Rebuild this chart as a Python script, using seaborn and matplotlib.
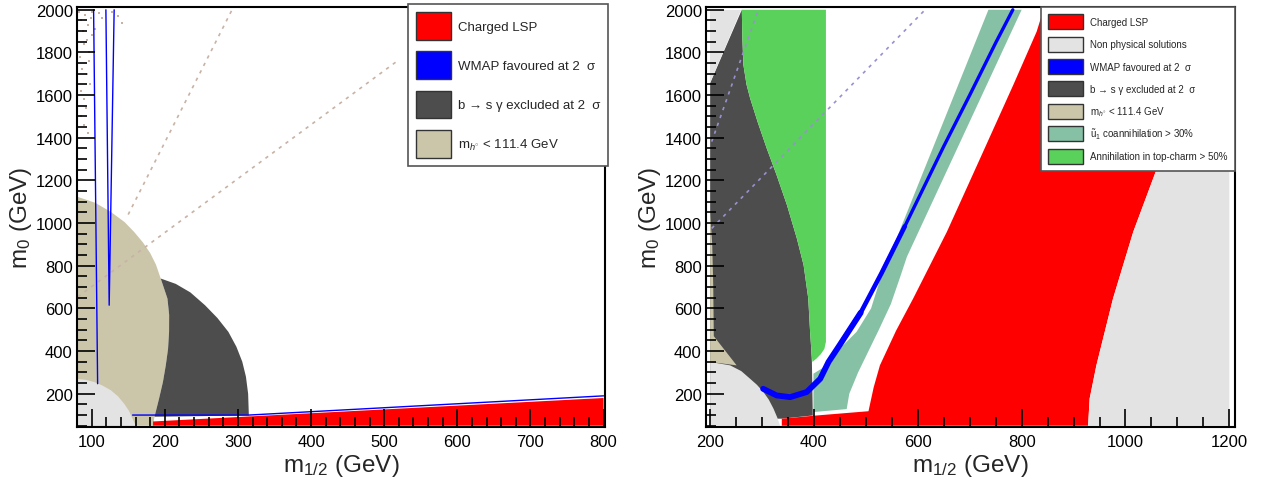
import matplotlib
matplotlib.use("Agg")
import matplotlib.pyplot as plt
from matplotlib.patches import Patch
from matplotlib.ticker import MultipleLocator
import seaborn as sns

sns.set_style("white")
plt.rcParams["font.family"] = ["Liberation Sans", "DejaVu Sans"]
plt.rcParams["mathtext.fontset"] = "custom"
plt.rcParams["mathtext.rm"] = "Liberation Sans"
plt.rcParams["mathtext.it"] = "Liberation Sans:italic"

# colours of the regions
C_RED = "#ff0000"
C_BLUE = "#0000ff"
C_DARK = "#4d4d4d"
C_TAN = "#cbc6aa"
C_LIGHT = "#e3e3e3"
C_TEAL = "#86c1a5"
C_GREEN = "#59d15a"

# ---------------- left panel (m1/2, m0) region boundaries in GeV ----------------
L_tan_x = [80, 105, 126, 145, 158, 170, 180, 188, 194.5, 203.7, 206, 205.9, 204.5, 201.4,
           197.5, 192.2, 185.4, 184.5, 80]
L_tan_y = [1124, 1095, 1053, 1005, 959, 910, 860, 805, 740, 646, 570, 490, 410, 333,
           255, 177, 83, 50, 50]

L_dark_x = [194.5, 215, 235, 255, 272, 287, 298, 306, 311, 314, 315, 186,
            192.2, 197.5, 201.4, 204.5, 205.9, 206, 203.7]
L_dark_y = [740, 715, 675, 615, 555, 490, 420, 350, 280, 200, 98, 92,
            177, 255, 333, 410, 490, 570, 646]

L_light_x = [80, 80, 92, 103.5, 115, 126.3, 136, 144.5, 151, 155.9, 160.4]
L_light_y = [50, 270, 265, 255, 238, 216, 188, 153, 120, 83, 50]

L_red_x = [184, 184, 800, 800]
L_red_y = [50, 70, 180, 50]

L_wmap_x = [156, 315, 800]
L_wmap_y = [100, 100, 190]
L_wmapv1_x = [102.7, 108.2]
L_wmapv1_y = [2000, 247]
L_wmapv2_x = [119.5, 124, 130.8]
L_wmapv2_y = [2000, 615, 2000]

L_ray1_x = [150, 292]
L_ray1_y = [1040, 2000]
L_ray2_x = [81, 520]
L_ray2_y = [654, 1765]

# sparse brownish specks in the top-left corner
L_speck_x = [83, 86, 88, 91, 93, 95, 97, 99, 101, 84, 87, 90, 94, 98, 85, 89, 92, 96,
             100, 104, 110, 114, 128, 136, 141, 86, 90, 95]
L_speck_y = [1990, 1950, 1900, 1975, 1860, 1930, 1800, 1960, 1880, 1780, 1720, 1840,
             1700, 1650, 1620, 1580, 1540, 1760, 1990, 1910, 1985, 1960, 1990, 1970,
             1940, 1500, 1460, 1420]

# ---------------- right panel ----------------
R_dark_x = [200, 200, 261, 262, 264, 270, 277, 292, 309, 328, 348, 367, 380, 389,
            392.5, 395, 396, 397.7, 338]
R_dark_y = [83, 1656, 2000, 1870, 1742, 1650, 1585, 1470, 1350, 1225, 1084, 928, 803,
            646, 490, 400, 349, 98, 83]

R_tan_x = [200, 204, 206, 207, 251, 200]
R_tan_y = [1053, 900, 700, 470, 333, 349]

R_light1_x = [200, 200, 238.5, 260, 277, 290, 302.6, 313, 322, 329, 334.7]
R_light1_y = [50, 349, 333, 306, 270, 242, 208, 172, 130, 90, 50]
R_light2_x = [200, 200, 259]
R_light2_y = [1656, 2000, 2000]

R_green_x = [261, 262, 264, 270, 277, 292, 309, 328, 348, 367, 380, 389, 392.5, 395,
             397, 405, 413, 420, 423, 423]
R_green_y = [2000, 1870, 1742, 1650, 1585, 1470, 1350, 1225, 1084, 928, 803, 646, 490,
             400, 349, 365, 385, 410, 443, 2000]

R_teal_x = [399, 399, 425, 445, 482, 510, 528, 736, 800, 579, 565, 548, 525, 505, 485,
            468, 463]
R_teal_y = [114, 294, 333, 400, 490, 600, 740, 2000, 2000, 842, 740, 620, 500, 400, 300,
            200, 128]

R_red_x = [338, 338, 400, 505, 515, 527, 558, 591, 656, 720, 784, 829, 842, 1160,
           1110, 1063, 1015, 976, 944, 931, 928]
R_red_y = [50, 83, 97, 118, 230, 333, 495, 646, 959, 1303, 1648, 1898, 2000, 2000,
           1600, 1272, 959, 646, 333, 177, 50]

R_light3_x = [928, 931, 944, 976, 1015, 1063, 1110, 1160, 1200, 1200]
R_light3_y = [50, 177, 333, 646, 959, 1272, 1600, 2000, 2000, 50]

# WMAP strip: thick near the bottom, thinner higher up
R_wmap_lo_x = [302, 328, 354, 386, 412, 428, 450, 490]
R_wmap_lo_y = [223, 192, 184, 208, 270, 349, 430, 580]
R_wmap_mid_x = [450, 490, 530, 575]
R_wmap_mid_y = [430, 580, 765, 985]
R_wmap_hi_x = [530, 575, 610, 650, 700, 750, 783]
R_wmap_hi_y = [765, 985, 1160, 1360, 1600, 1845, 2000]

R_rayA_x = [203, 293]
R_rayA_y = [1382, 2000]
R_rayB_x = [203, 614]
R_rayB_y = [975, 2000]

left_labels = ["Charged LSP", "WMAP favoured at 2  σ", "b → s γ excluded at 2  σ",
               r"m$_{h^{\circ}}$ < 111.4 GeV"]
left_colors = [C_RED, C_BLUE, C_DARK, C_TAN]
right_labels = ["Charged LSP", "Non physical solutions", "WMAP favoured at 2  σ",
                "b → s γ excluded at 2  σ", r"m$_{h^{\circ}}$ < 111.4 GeV",
                r"$\tilde{\mathrm{u}}_1$ coannihilation > 30%",
                "Annihilation in top-charm > 50%"]
right_colors = [C_RED, C_LIGHT, C_BLUE, C_DARK, C_TAN, C_TEAL, C_GREEN]

fig = plt.figure(figsize=(12.62, 4.85), dpi=100)
ax1 = fig.add_axes([77 / 1262, 57 / 485, 528 / 1262, 420 / 485])
ax2 = fig.add_axes([706 / 1262, 57 / 485, 529 / 1262, 420 / 485])

# left panel regions
ax1.fill(L_tan_x, L_tan_y, color=C_TAN, lw=0)
ax1.fill(L_dark_x, L_dark_y, color=C_DARK, lw=0)
ax1.fill(L_light_x, L_light_y, color=C_LIGHT, lw=0)
ax1.fill(L_red_x, L_red_y, color=C_RED, lw=0)
sns.scatterplot(x=L_speck_x, y=L_speck_y, color="#c8b2a5", s=3, marker="s",
                linewidth=0, legend=False, ax=ax1)
ray_style = dict(sort=False, estimator=None, lw=1.2, linestyle=(0, (2, 3)), legend=False)
sns.lineplot(x=L_ray1_x, y=L_ray1_y, color="#c8b2a5", ax=ax1, **ray_style)
sns.lineplot(x=L_ray2_x, y=L_ray2_y, color="#c8b2a5", ax=ax1, **ray_style)
for xs, ys in [(L_wmap_x, L_wmap_y), (L_wmapv1_x, L_wmapv1_y), (L_wmapv2_x, L_wmapv2_y)]:
    sns.lineplot(x=xs, y=ys, color=C_BLUE, lw=1.0, sort=False, estimator=None,
                 legend=False, ax=ax1)

# right panel regions
ax2.fill(R_dark_x, R_dark_y, color=C_DARK, lw=0)
ax2.fill(R_tan_x, R_tan_y, color=C_TAN, lw=0)
ax2.fill(R_light1_x, R_light1_y, color=C_LIGHT, lw=0)
ax2.fill(R_light2_x, R_light2_y, color=C_LIGHT, lw=0)
ax2.fill(R_green_x, R_green_y, color=C_GREEN, lw=0)
ax2.fill(R_teal_x, R_teal_y, color=C_TEAL, lw=0)
ax2.fill(R_red_x, R_red_y, color=C_RED, lw=0)
ax2.fill(R_light3_x, R_light3_y, color=C_LIGHT, lw=0)
sns.lineplot(x=R_rayA_x, y=R_rayA_y, color="#9a90d0", ax=ax2, **ray_style)
sns.lineplot(x=R_rayB_x, y=R_rayB_y, color="#9a90d0", ax=ax2, **ray_style)
for xs, ys, w in [(R_wmap_lo_x, R_wmap_lo_y, 4.2), (R_wmap_mid_x, R_wmap_mid_y, 3.3),
                  (R_wmap_hi_x, R_wmap_hi_y, 2.4)]:
    sns.lineplot(x=xs, y=ys, color=C_BLUE, lw=w, sort=False, estimator=None,
                 legend=False, solid_capstyle="round", ax=ax2)

# axes styling, ROOT-like
for ax, xlim, xmaj, xmin in [(ax1, (80, 802), 100, 20), (ax2, (192, 1211), 200, 50)]:
    ax.set_axisbelow(False)
    ax.set_xlim(*xlim)
    ax.set_ylim(44, 2013)
    ax.xaxis.set_major_locator(MultipleLocator(xmaj))
    ax.xaxis.set_minor_locator(MultipleLocator(xmin))
    ax.yaxis.set_major_locator(MultipleLocator(200))
    ax.yaxis.set_minor_locator(MultipleLocator(50))
    ax.tick_params(which="both", direction="in", bottom=True, left=True, top=False,
                   right=False, width=1.2, colors="black", labelsize=12)
    ax.tick_params(which="major", length=13, pad=5)
    ax.tick_params(which="minor", length=7)
    ax.tick_params(axis="y", which="major", pad=3)
    for sp in ax.spines.values():
        sp.set_color("black")
        sp.set_linewidth(1.5)
    ax.set_xlabel(r"m$_{1/2}$ (GeV)", fontsize=17.5, labelpad=2)
    ax.set_ylabel(r"m$_0$ (GeV)", fontsize=17.5, labelpad=1)
    ax.set_facecolor("white")

h1 = [Patch(facecolor=c, edgecolor="#333333", lw=1) for c in left_colors]
leg1 = ax1.legend(h1, left_labels, loc="upper right", bbox_to_anchor=(1.006, 1.007),
                  fontsize=9.5, handlelength=2.65, handleheight=2.88, labelspacing=0.86,
                  handletextpad=0.55, borderpad=0.6, borderaxespad=0, fancybox=False,
                  framealpha=1, edgecolor="#555555")
leg1.get_frame().set_linewidth(1.2)

h2 = [Patch(facecolor=c, edgecolor="#333333", lw=1) for c in right_colors]
leg2 = ax2.legend(h2, right_labels, loc="upper right", bbox_to_anchor=(1.0, 1.0),
                  fontsize=7, handlelength=3.6, handleheight=2.0, labelspacing=0.75,
                  handletextpad=0.75, borderpad=0.75, borderaxespad=0, fancybox=False,
                  framealpha=1, edgecolor="#555555")
leg2.get_frame().set_linewidth(1.2)

fig.savefig("out.png", dpi=100)
